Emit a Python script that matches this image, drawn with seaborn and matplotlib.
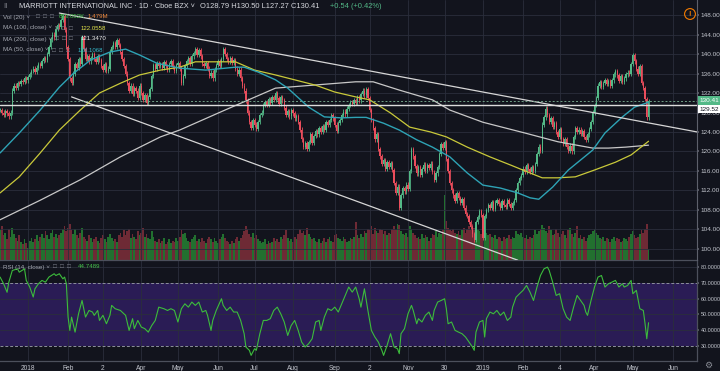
import numpy as np
import pandas as pd
import matplotlib
matplotlib.use("Agg")
import matplotlib.pyplot as plt
import matplotlib.transforms as mtransforms
import seaborn as sns

# daily closes (first candle 2017-12-08, last 2019-05-14)
closes = [
    128.5, 128.0, 127.5, 128.3, 127.8, 127.2, 128.0, 132.5, 133.5, 133.0, 134.0, 133.8,
    134.5, 134.2, 135.0, 134.6, 135.3, 135.8, 136.5, 137.0, 136.4, 137.2, 138.0, 137.5, 138.6,
    139.2, 138.8, 140.0, 141.5, 143.0, 144.0, 143.4, 145.2, 146.0, 145.5, 147.0, 147.8,
    145.0, 141.5, 139.0, 135.0, 134.0, 136.0, 138.0, 137.2, 139.0, 138.0, 143.5,
    141.0, 139.0, 139.6, 138.5, 139.2, 140.0, 139.0, 138.4, 139.5, 138.8,
    137.5, 136.8, 138.0, 136.5, 137.0, 140.5, 141.5, 142.3, 141.5, 142.8, 141.8, 140.5,
    139.0, 137.5, 136.0, 134.0, 132.5, 133.5, 131.8, 133.0, 132.5,
    131.0, 133.5, 132.0, 130.6, 131.5, 130.0, 131.2, 132.8, 135.5, 137.8, 137.0, 138.2,
    137.5, 138.0, 137.2, 138.4, 137.6, 136.8, 137.9, 138.5, 137.3, 136.5, 137.8, 138.2, 137.0,
    134.0, 135.5, 137.5, 138.5, 139.2, 138.0, 139.5, 140.2, 141.0, 139.8, 140.8, 139.5,
    138.0, 137.5, 138.2, 137.0, 135.5, 136.2, 135.0, 136.8, 137.8, 138.5, 137.6, 139.0,
    141.0, 140.0, 139.0, 138.4, 139.2, 138.2, 138.8, 137.0, 136.0, 136.8, 135.0,
    133.5, 132.5, 130.5, 128.0, 126.0, 124.8, 126.5, 125.5, 124.6, 126.0, 127.5, 128.0,
    129.5, 130.2, 129.5, 130.8, 130.0, 131.2, 130.6, 132.0, 131.0, 129.8, 131.2, 130.5, 129.0,
    127.5, 128.3, 127.2, 128.5, 127.8, 126.8, 127.2, 126.0, 124.5, 122.5, 121.0, 121.8, 120.5,
    122.0, 123.5, 121.8, 123.2, 124.2, 123.5, 124.8, 124.0, 125.2, 124.5, 126.0, 125.4,
    126.5, 127.5, 126.8, 125.5, 124.2, 125.8, 126.5, 127.5, 128.2, 127.6, 128.8,
    129.5, 130.2, 129.8, 130.6, 130.0, 131.2, 130.5, 131.8, 132.5, 131.5, 132.8,
    131.0, 128.5, 126.5, 124.8, 122.5, 123.5, 120.5, 119.0, 117.5, 118.2, 116.5, 117.8,
    116.8, 117.6, 116.2, 113.5, 111.5, 112.8, 108.5, 111.0, 112.5, 111.8, 113.2, 112.4,
    116.0, 120.5, 119.0, 117.0, 115.5, 116.8, 115.2, 116.4, 117.3, 116.0, 117.2, 116.6, 117.5,
    115.8, 114.2, 115.5, 116.8, 119.5, 121.5, 120.8, 122.0, 118.5, 116.0, 113.5, 112.0,
    111.0, 109.8, 111.4, 110.5, 109.4, 110.2, 108.5, 107.2, 106.8, 105.5, 104.5, 103.0, 101.8,
    105.5, 106.5, 107.8, 107.0, 102.2, 106.8, 108.0, 109.0, 108.5, 109.6, 108.2, 109.5, 110.0,
    109.2, 108.4, 109.8, 109.0, 108.6, 110.0, 109.2, 108.5, 109.4, 110.0, 112.0, 113.5, 114.5,
    115.2, 116.5, 115.8, 117.2, 116.4, 115.8, 116.8, 116.0, 117.4, 119.5, 121.0, 120.2,
    125.5, 127.0, 128.8, 127.5, 126.0, 126.8, 125.0, 125.8, 124.0, 123.0, 124.6, 122.5,
    121.5, 122.6, 121.0, 120.2, 121.2, 120.0, 123.0, 124.8, 124.0,
    124.5, 123.6, 124.2, 123.0, 122.4, 123.5, 124.6, 126.0, 128.0, 129.5, 131.0,
    133.5, 134.2, 133.2, 134.0, 134.6, 133.8, 134.5, 133.5, 134.6, 135.8, 136.5, 135.6,
    134.5, 135.5, 134.2, 135.0, 135.8, 136.2, 136.0, 138.0, 139.8, 138.5,
    137.0, 136.0, 137.5, 134.0, 133.0, 130.8, 127.0, 130.41,
]

# daily volume, millions
volumes = [
    2.3, 2.6, 1.9, 2.1, 1.6, 2.4, 1.8, 2.5, 2.0, 1.7, 1.5, 1.9, 1.4, 1.2, 1.6, 1.3, 0.9, 1.5, 1.7, 1.4,
    1.6, 1.9, 1.5, 1.8, 2.0, 1.7, 2.2, 1.9, 1.6, 2.1, 2.3, 1.8, 2.0, 1.7, 1.9, 2.1, 2.4, 2.6, 2.2, 2.5,
    2.8, 2.3, 2.0, 2.4, 1.9, 1.7, 2.1, 2.5, 1.8, 1.6, 1.5, 1.9, 1.7, 1.4, 1.6, 1.8, 1.5, 1.3, 1.7, 1.9,
    1.6, 1.4, 1.8, 2.0, 1.7, 1.5, 1.6, 1.4, 1.9, 2.1, 1.8, 2.3, 1.9, 2.2, 2.4, 1.7, 2.0, 1.8, 1.6, 2.2,
    1.9, 2.1, 2.5, 1.8, 2.0, 1.7, 1.6, 2.2, 1.8, 1.5, 1.4, 1.6, 1.3, 1.5, 1.7, 1.2, 1.4, 1.6, 1.3, 1.5,
    1.4, 1.7, 1.5, 1.8, 2.3, 2.0, 2.1, 1.7, 1.5, 1.4, 1.6, 1.8, 1.9, 1.5, 1.6, 1.4, 1.7, 1.5, 1.3, 1.6,
    1.8, 1.6, 1.4, 1.7, 1.5, 1.3, 1.6, 1.8, 2.0, 1.7, 1.5, 1.4, 1.2, 1.5, 1.3, 1.6, 1.8, 1.5, 1.7, 1.9,
    2.2, 2.6, 2.4, 2.0, 1.8, 2.1, 1.7, 1.9, 1.6, 1.5, 1.3, 1.4, 1.6, 1.2, 1.5, 1.3, 1.4, 1.7, 1.5, 1.6,
    1.4, 1.8, 1.6, 1.9, 2.3, 1.7, 1.5, 1.6, 1.4, 1.8, 1.6, 2.0, 2.4, 2.1, 2.2, 1.9, 2.5, 2.0, 1.8, 1.6,
    1.7, 1.5, 1.4, 1.6, 1.3, 1.5, 1.7, 1.4, 1.6, 1.8, 1.5, 1.4, 1.9, 2.0, 1.7, 1.6, 1.5, 1.8, 1.6, 1.4,
    1.5, 1.7, 1.6, 1.8, 2.9, 1.9, 1.7, 2.0, 1.8, 2.2, 2.1, 2.4, 2.3, 2.6, 2.0, 2.5, 2.2, 2.1, 2.4, 2.3,
    2.0, 2.2, 1.9, 2.1, 2.0, 2.4, 2.6, 2.3, 2.8, 2.7, 2.2, 2.0, 1.9, 2.1, 1.8, 2.6, 2.4, 2.1, 1.9, 1.7,
    1.8, 1.6, 2.0, 1.7, 1.9, 1.8, 1.5, 1.7, 2.0, 1.9, 2.2, 1.8, 2.1, 2.0, 2.3, 5.0, 3.0, 2.5, 2.3, 2.2,
    2.4, 2.1, 2.0, 2.2, 1.9, 2.3, 2.5, 2.1, 2.4, 2.6, 2.3, 2.8, 2.5, 2.9, 2.4, 2.2, 2.0, 2.6, 2.3, 2.1,
    1.9, 2.0, 1.8, 1.7, 1.9, 1.6, 1.8, 1.7, 1.5, 1.8, 1.6, 1.7, 1.9, 1.6, 1.8, 1.7, 2.2, 2.0, 1.9, 2.1,
    1.8, 1.7, 1.9, 1.6, 1.8, 1.7, 1.9, 2.3, 2.0, 2.2, 2.4, 2.7, 2.5, 2.2, 2.1, 2.6, 2.3, 1.9, 2.0, 2.4,
    2.1, 1.8, 2.0, 2.2, 1.9, 1.7, 2.3, 2.5, 2.0, 1.8, 2.1, 2.6, 1.7, 1.9, 1.6, 1.8, 1.5, 1.7, 1.9, 2.0,
    2.2, 2.4, 2.1, 1.9, 1.7, 1.6, 1.8, 1.5, 1.7, 1.6, 1.4, 1.6, 1.8, 1.5, 1.7, 1.6, 1.4, 1.5, 1.7, 1.6,
    1.5, 1.8, 2.0, 2.2, 1.9, 1.7, 1.8, 2.0, 2.3, 2.1, 2.4, 2.8, 0.85,
]

# moving averages, sampled (trading-day index, value)
ma50_day = [0, 11, 23, 34, 42, 52, 63, 72, 80, 90, 103, 118, 135, 140, 148, 158, 165, 177, 186, 196,
            204, 210, 220, 229, 239, 248, 258, 268, 277, 287, 297, 304, 309, 317, 326, 340, 347, 357, 364, 372]
ma50_val = [119.7, 123.8, 128.5, 133.2, 136.0, 138.8, 140.4, 141.0, 139.8, 138.1, 137.1, 136.7, 137.3, 137.3,
            136.3, 134.7, 133.0, 129.1, 127.1, 126.9, 127.0, 127.0, 125.8, 124.4, 122.4, 120.9, 118.9, 115.6,
            113.1, 112.5, 111.5, 110.5, 110.2, 112.7, 116.2, 120.3, 123.8, 127.1, 129.1, 130.1]
ma100_day = [0, 11, 23, 34, 46, 57, 69, 80, 92, 103, 112, 135, 146, 158, 169, 181, 192, 204, 212, 224,
             235, 247, 256, 268, 281, 293, 304, 311, 320, 330, 341, 353, 362, 372]
ma100_val = [111.5, 114.8, 119.7, 124.4, 128.5, 132.0, 134.0, 135.7, 136.7, 137.3, 138.4, 138.4, 136.7, 135.7,
             134.7, 133.6, 132.2, 131.2, 130.6, 127.9, 125.0, 124.0, 123.0, 120.9, 118.9, 117.2, 115.6, 114.6,
             114.6, 114.8, 116.2, 117.8, 119.3, 122.1]
ma200_day = [0, 23, 46, 69, 92, 103, 129, 158, 204, 214, 229, 248, 258, 277, 301, 320, 340, 349, 359, 372]
ma200_val = [106.0, 110.0, 114.2, 118.9, 123.0, 124.4, 128.5, 133.0, 134.3, 134.3, 132.6, 130.6, 128.5, 126.0,
             123.8, 122.0, 120.7, 120.7, 120.9, 121.3]

# RSI(14), sampled
rsi_day = [0, 2, 4, 5, 7, 10, 11, 14, 15, 17, 19, 20, 22, 24, 26, 28, 31, 32, 34, 36, 37, 38, 39, 40, 41,
           43, 45, 47, 49, 51, 53, 54, 56, 57, 59, 61, 63, 64, 66, 69, 72, 74, 76, 77, 79, 81, 83, 85, 87, 89,
           91, 94, 96, 98, 100, 102, 104, 106, 108, 110, 112, 114, 116, 118, 119, 121, 122, 124, 127, 128,
           130, 132, 134, 136, 138, 140, 141, 143, 144, 146, 147, 149, 151, 153, 155, 157, 159, 161, 163, 165,
           167, 169, 171, 173, 175, 177, 179, 181, 183, 184, 186, 188, 190, 192, 194, 196, 198, 200, 202, 204,
           206, 207, 209, 211, 213, 215, 217, 219, 220, 222, 224, 226, 228, 229, 230, 232, 234, 236, 237, 239,
           240, 242, 244, 246, 248, 249, 251, 253, 255, 256, 257, 259, 261, 263, 265, 267, 269, 271, 272, 273,
           275, 277, 278, 279, 281, 283, 285, 287, 289, 291, 293, 294, 296, 298, 300, 302, 304, 306, 308, 310,
           312, 314, 315, 317, 319, 321, 323, 325, 327, 329, 331, 333, 335, 336, 337, 339, 341, 343, 345, 347,
           349, 351, 353, 355, 357, 358, 360, 362, 363, 365, 367, 369, 370, 371, 372]
rsi_val = [73.6, 69.4, 64.0, 70.4, 77.8, 78.8, 76.7, 78.8, 71.5, 67.3, 61.0, 66.2, 69.4, 71.5, 70.4, 73.6,
           75.7, 74.6, 75.7, 72.5, 73.6, 69.4, 48.3, 39.9, 48.3, 38.8, 50.4, 58.8, 48.3, 52.5, 51.5, 49.4, 52.5,
           46.2, 49.4, 44.1, 49.4, 55.7, 53.6, 52.5, 49.4, 39.9, 47.3, 41.0, 46.2, 42.0, 41.0, 38.8, 43.0, 46.2,
           54.6, 53.6, 52.5, 53.6, 52.5, 45.2, 53.6, 56.7, 54.6, 57.8, 55.7, 57.8, 51.5, 52.5, 49.4, 39.9, 46.2,
           52.5, 59.9, 55.7, 52.5, 54.6, 51.5, 51.5, 46.2, 37.8, 29.4, 27.3, 24.1, 28.3, 27.3, 37.8, 46.2, 46.2,
           47.3, 52.5, 54.6, 50.4, 45.2, 36.7, 43.0, 46.2, 39.9, 32.5, 29.4, 31.5, 34.6, 45.2, 46.2, 39.9, 48.3,
           53.6, 52.5, 54.6, 51.5, 56.7, 62.0, 67.3, 64.1, 67.3, 59.9, 54.6, 66.2, 52.5, 39.9, 35.7, 32.5, 27.3,
           24.1, 30.4, 37.8, 29.4, 28.3, 25.2, 37.8, 41.0, 50.4, 55.7, 52.5, 44.1, 47.3, 45.2, 49.4, 51.5, 46.2,
           52.5, 57.8, 58.8, 59.9, 53.6, 44.1, 45.2, 39.9, 38.8, 37.8, 35.7, 32.5, 29.4, 27.3, 38.8, 45.2, 46.2,
           35.7, 47.3, 51.5, 50.4, 52.5, 49.4, 51.5, 46.2, 48.3, 54.6, 60.9, 63.1, 65.2, 68.3, 64.1, 58.8, 67.3,
           74.6, 78.8, 79.9, 77.8, 70.4, 62.0, 63.1, 53.6, 48.3, 46.2, 54.6, 62.0, 58.8, 55.7, 51.5, 49.4, 58.8,
           67.3, 73.6, 74.6, 67.3, 69.4, 70.4, 71.5, 67.3, 69.4, 67.3, 68.3, 71.5, 63.1, 65.2, 53.6, 52.5, 44.1,
           34.6, 44.75]

# drawn lines (trading-day index, price)
upper_trend_day = [34, 400]
upper_trend_val = [148.4, 124.0]
lower_trend_day = [41, 297]
lower_trend_val = [131.2, 97.7]
hline_price = 129.52
last_price = 130.41

tick_dates = ["2018-01-01", "2018-02-01", "2018-03-01", "2018-04-02", "2018-05-01", "2018-06-01",
              "2018-07-02", "2018-08-01", "2018-09-04", "2018-10-02", "2018-11-01", "2018-11-30",
              "2019-01-01", "2019-02-01", "2019-03-04", "2019-04-01", "2019-05-01", "2019-06-03"]
tick_labels = ["2018", "Feb", "2", "Apr", "May", "Jun", "Jul", "Aug", "Sep", "2", "Nov", "30",
               "2019", "Feb", "4", "Apr", "May", "Jun"]
price_ticks = list(range(100, 149, 4))
rsi_ticks = [30, 40, 50, 60, 70, 80]

BG = "#12141d"
GRID = "#2a2e3b"
AXC = "#5d606b"
TXT = "#c3c6ce"
UP = "#53b987"
DOWN = "#eb4d5c"
VOL_UP = "#22702f"
VOL_DOWN = "#6e2a35"

sns.set_theme(style="dark", rc={"axes.facecolor": BG, "figure.facecolor": BG})
plt.rcParams["font.family"] = ["Liberation Sans", "DejaVu Sans"]

W, H = 720, 371


def rect(x0, y0, x1, y1):
    return [x0 / W, 1 - y1 / H, (x1 - x0) / W, (y1 - y0) / H]


fig = plt.figure(figsize=(7.2, 3.71), dpi=100)
ax_vol = fig.add_axes(rect(0, 0, 697, 260))
ax = fig.add_axes(rect(0, 0, 697, 260), sharex=ax_vol)
ax_rsi = fig.add_axes(rect(0, 260, 697, 361), sharex=ax_vol)
ax_vol.set_zorder(0)
ax.set_zorder(1)
ax.patch.set_alpha(0)

dates = pd.bdate_range("2017-12-08", periods=len(closes))
all_days = pd.bdate_range("2017-12-08", "2019-07-31")
tick_pos = all_days.get_indexer(pd.to_datetime(tick_dates))

c = np.array(closes)
o = np.r_[c[0], c[:-1]]
x = np.arange(len(c))
up = c >= o
col = np.where(up, UP, DOWN)

# volume
ax_vol.bar(x, volumes, width=1.0, color=np.where(up, VOL_UP, VOL_DOWN), linewidth=0)
ax_vol.set_ylim(0, 20)
ax_vol.set_axis_off()

# candles
ax.vlines(x, np.minimum(o, c) - 0.45, np.maximum(o, c) + 0.45, colors=col, linewidth=0.6, zorder=3)
ax.bar(x, np.maximum(np.abs(c - o), 0.12), bottom=np.minimum(o, c), width=0.72, color=col,
       linewidth=0, zorder=3)

# moving averages
sns.lineplot(x=ma200_day, y=ma200_val, ax=ax, color="#c8c8c8", linewidth=0.9, zorder=4)
sns.lineplot(x=ma100_day, y=ma100_val, ax=ax, color="#c9c93a", linewidth=0.9, zorder=4)
sns.lineplot(x=ma50_day, y=ma50_val, ax=ax, color="#2ea3b5", linewidth=1.0, zorder=4)

# trend lines and horizontal levels
ax.plot(upper_trend_day, upper_trend_val, color="#d6d6d6", linewidth=0.9, zorder=5)
ax.plot(lower_trend_day, lower_trend_val, color="#d6d6d6", linewidth=0.9, zorder=5)
ax.axhline(last_price, color="#6f9f86", linewidth=0.7, linestyle=(0, (2, 2)), zorder=5)
ax.axhline(hline_price, color="#dcdcdc", linewidth=1.0, zorder=5)

ax.set_xlim(-0.06, 399.8)
ax.set_ylim(97.74, 151.08)
ax.set_xticks(tick_pos)
ax.set_yticks(price_ticks)
ax.set_yticklabels([f"{v:.2f}" for v in price_ticks])
ax.yaxis.tick_right()
ax.tick_params(axis="y", labelsize=4.6, labelcolor=TXT, color=AXC, length=1.5, pad=1.2)
ax.tick_params(axis="x", bottom=False, labelbottom=False)
ax.grid(True, color=GRID, linewidth=0.6)
ax.set_xlabel("")
ax.set_ylabel("")
for s in ax.spines.values():
    s.set_visible(False)
ax.spines["right"].set_visible(True)
ax.spines["right"].set_color(AXC)
ax.spines["right"].set_linewidth(0.8)

# price labels on the axis
trans = mtransforms.blended_transform_factory(ax.transAxes, ax.transData)
ax.text(1.0035, last_price, f"{last_price:.2f}", transform=trans, ha="left", va="center", fontsize=4.6,
        color="white", clip_on=False, zorder=10,
        bbox=dict(boxstyle="square,pad=0.3", fc=UP, ec="none"))
ax.text(1.0035, hline_price - 0.3, f"{hline_price:.2f}", transform=trans, ha="left", va="top", fontsize=4.6,
        color="#131722", clip_on=False, zorder=10,
        bbox=dict(boxstyle="square,pad=0.3", fc="white", ec="none"))

# RSI panel
ax_rsi.axhspan(30, 70, color="#2a1c55", zorder=0, linewidth=0)
for lvl in [40, 50, 60, 80]:
    ax_rsi.axhline(lvl, color=GRID, linewidth=0.6, zorder=1)
for lvl in [30, 70]:
    ax_rsi.axhline(lvl, color="#8d909c", linewidth=0.7, linestyle=(0, (3, 2)), zorder=1)
sns.lineplot(x=rsi_day, y=rsi_val, ax=ax_rsi, color="#3cbc3c", linewidth=0.8, zorder=3)
ax_rsi.set_ylim(20.55, 84.4)
ax_rsi.set_yticks(rsi_ticks)
ax_rsi.set_yticklabels([f"{v:.4f}" for v in rsi_ticks])
ax_rsi.yaxis.tick_right()
ax_rsi.tick_params(axis="y", labelsize=3.9, labelcolor=TXT, color=AXC, length=1.5, pad=1.2)
ax_rsi.set_xticks(tick_pos)
ax_rsi.set_xticklabels(tick_labels)
ax_rsi.tick_params(axis="x", labelsize=4.8, labelcolor=TXT, length=0, pad=3)
ax_rsi.grid(True, axis="x", color=GRID, linewidth=0.6)
ax_rsi.grid(False, axis="y")
ax_rsi.set_xlabel("")
ax_rsi.set_ylabel("")
for name, s in ax_rsi.spines.items():
    s.set_visible(name in ("top", "bottom", "right"))
    s.set_color("#4c505c")
    s.set_linewidth(0.9)

# legend texts


def ftext(px, py, s, color=TXT, size=5.5, **kw):
    fig.text(px / W, 1 - py / H, s, color=color, fontsize=size, va="center", ha="left", **kw)


ftext(3, 6, "‖", color="#8a8d96", size=6)
ftext(19, 6, "MARRIOTT INTERNATIONAL INC · 1D · Cboe BZX ˅", color="#d7d9df", size=5.3)
ftext(200, 6, "O128.79 H130.50 L127.27 C130.41", color="#d7d9df", size=5.4)
ftext(330, 6, "+0.54 (+0.42%)", color=UP, size=5.4)

legend_rows = [
    (17, "Vol (20) ˅", 36, [("853.052K", "#45c04a", 59), ("1.479M", "#f08a3c", 88)]),
    (28, "MA (100, close) ˅", 55, [("122.0558", "#e3e34a", 81)]),
    (39, "MA (200, close) ˅", 55, [("121.3470", "#eeeeee", 81)]),
    (50, "MA (50, close) ˅", 52, [("130.1068", "#35b6c8", 78)]),
    (267, "RSI (14, close) ˅", 53, [("44.7489", "#45c04a", 78)]),
]
for py, label, icon_x, values in legend_rows:
    ftext(3, py, label, color="#a6a9b2", size=4.5)
    for k in range(3):
        ftext(icon_x + k * 7, py, "□", color="#7d808a", size=4.6)
    for s, colr, px in values:
        ftext(px, py, s, color=colr, size=4.4)

fig.text(690 / W, 1 - 14 / H, "!", color="#f57c00", fontsize=5.5, ha="center", va="center",
         fontweight="bold", bbox=dict(boxstyle="circle,pad=0.25", fc="none", ec="#f57c00", lw=0.8))
fig.text(708 / W, 1 - 365 / H, "⚙", color="#8a8d96", fontsize=6.5, ha="center", va="center")

fig.savefig("out.png", dpi=100, facecolor=BG)
